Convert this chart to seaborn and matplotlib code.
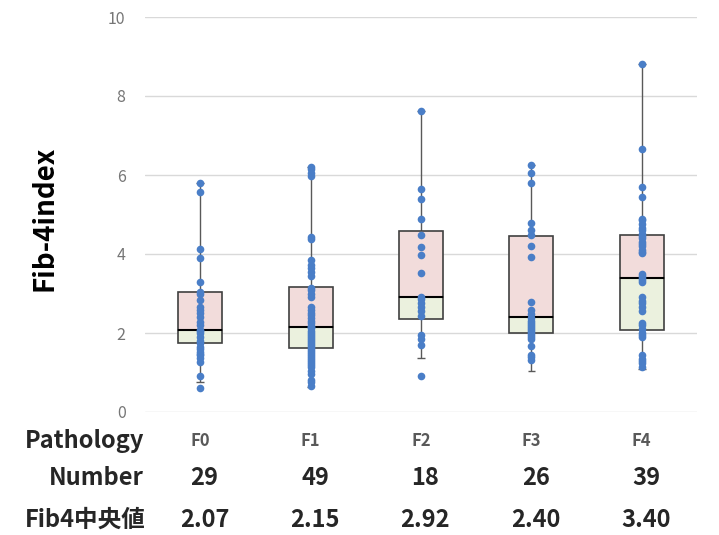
import numpy as np
import pandas as pd
import matplotlib
matplotlib.use('Agg')
import matplotlib.pyplot as plt
import matplotlib.transforms as mtransforms
import seaborn as sns

# categorias y datos
categories = ['F0', 'F1', 'F2', 'F3', 'F4']
numbers = [29, 49, 18, 26, 39]
medians_txt = ['2.07', '2.15', '2.92', '2.40', '3.40']

f0 = [5.81, 5.57, 4.12, 3.89, 3.28, 3.05, 2.99, 2.84, 2.67, 2.58, 2.50, 2.41, 2.28,
      2.20, 2.08, 2.05, 1.99, 1.91, 1.80, 1.74, 1.65, 1.60, 1.53, 1.48, 1.44, 1.36,
      1.27, 0.91, 0.62]
f1 = [6.20, 6.15, 6.05, 5.98, 4.42, 4.38, 3.85, 3.72, 3.65, 3.55, 3.45, 3.15, 3.08,
      3.00, 2.92, 2.65, 2.58, 2.50, 2.45, 2.38, 2.30, 2.25, 2.18, 2.15, 2.12, 2.05,
      2.00, 1.95, 1.90, 1.85, 1.80, 1.75, 1.70, 1.65, 1.60, 1.55, 1.50, 1.45, 1.40,
      1.35, 1.30, 1.25, 1.20, 1.15, 1.05, 0.95, 0.82, 0.75, 0.65]
f2 = [7.63, 5.65, 5.40, 4.88, 4.48, 4.17, 3.97, 3.51, 2.92, 2.85, 2.75, 2.65, 2.55,
      2.42, 1.95, 1.85, 1.70, 0.91]
f3 = [6.25, 6.06, 5.81, 4.79, 4.62, 4.47, 4.19, 3.92, 2.79, 2.58, 2.48, 2.37, 2.30,
      2.25, 2.20, 2.15, 2.10, 2.05, 2.00, 1.95, 1.90, 1.85, 1.67, 1.44, 1.40, 1.32]
f4 = [8.81, 6.66, 5.69, 5.44, 4.88, 4.85, 4.75, 4.65, 4.60, 4.50, 4.45, 4.40, 4.30,
      4.25, 4.20, 4.10, 4.05, 4.02, 3.50, 3.45, 3.40, 3.35, 3.30, 2.90, 2.80, 2.75,
      2.65, 2.55, 2.25, 2.20, 2.10, 2.00, 1.95, 1.90, 1.45, 1.35, 1.30, 1.25, 1.15]

# estadisticos de las cajas
q1 = [1.75, 1.61, 2.35, 2.01, 2.08]
med = [2.07, 2.15, 2.92, 2.40, 3.40]
q3 = [3.03, 3.16, 4.58, 4.46, 4.47]
wlo = [0.77, 0.63, 1.36, 1.05, 1.10]
whi = [5.81, 6.21, 7.63, 6.25, 8.81]

df = pd.DataFrame({
    'Pathology': sum([[c] * len(v) for c, v in zip(categories, [f0, f1, f2, f3, f4])], []),
    'Fib4': f0 + f1 + f2 + f3 + f4,
})

sns.set_style('white')
plt.rcParams['font.family'] = ['Noto Sans CJK JP', 'DejaVu Sans']

fig = plt.figure(figsize=(7.19, 5.35), dpi=100)
ax = fig.add_axes([145 / 719, 1 - 412 / 535, 552 / 719, 395 / 535])

x = np.arange(len(categories))

# bigotes
ax.vlines(x, wlo, whi, color='#595959', lw=1, zorder=1)
ax.hlines(wlo, x - 0.035, x + 0.035, color='#595959', lw=1, zorder=1)
ax.hlines(whi, x - 0.035, x + 0.035, color='#595959', lw=1, zorder=1)

# cajas de dos colores
ax.bar(x, np.array(med) - np.array(q1), bottom=q1, width=0.4, color='#EBF1DE',
       edgecolor='#404040', lw=1.2, zorder=2)
ax.bar(x, np.array(q3) - np.array(med), bottom=med, width=0.4, color='#F2DCDB',
       edgecolor='#404040', lw=1.2, zorder=2)
ax.hlines(med, x - 0.2, x + 0.2, color='black', lw=1.5, zorder=2.5)

# puntos
sns.stripplot(data=df, x='Pathology', y='Fib4', order=categories, jitter=False,
              color='#4A7EC7', size=5.5, linewidth=0, ax=ax, zorder=3)

ax.set_xlim(-0.5, 4.5)
ax.set_ylim(0, 10)
ax.set_yticks([0, 2, 4, 6, 8, 10])
ax.grid(axis='y', color='#D9D9D9', lw=1)
ax.set_axisbelow(True)
for s in ax.spines.values():
    s.set_visible(False)
ax.tick_params(axis='y', length=0, labelsize=11.5, labelcolor='#767676', pad=14)
ax.tick_params(axis='x', length=0, labelbottom=False)
ax.set_xlabel('')
ax.set_ylabel('Fib-4index', fontsize=20, fontweight='bold', color='black')
ax.yaxis.set_label_coords(-0.157, 0.49)

# tabla inferior
trans = mtransforms.blended_transform_factory(ax.transData, fig.transFigure)
row_y = [1 - 441 / 535, 1 - 478 / 535, 1 - 520 / 535]
fig.text(144 / 719, row_y[0], 'Pathology', ha='right', va='center', fontsize=17, fontweight='bold')
fig.text(144 / 719, row_y[1], 'Number', ha='right', va='center', fontsize=17, fontweight='bold')
fig.text(146 / 719, row_y[2], 'Fib4中央値', ha='right', va='center', fontsize=17, fontweight='bold')
for i, c in enumerate(categories):
    ax.text(i, row_y[0], c, transform=trans, ha='center', va='center', fontsize=12,
            color='#595959', fontweight='bold')
    ax.text(i + 0.04, row_y[1], str(numbers[i]), transform=trans, ha='center', va='center',
            fontsize=17, fontweight='bold')
    ax.text(i + 0.04, row_y[2], medians_txt[i], transform=trans, ha='center', va='center',
            fontsize=17, fontweight='bold')

fig.savefig('out.png', dpi=100)
